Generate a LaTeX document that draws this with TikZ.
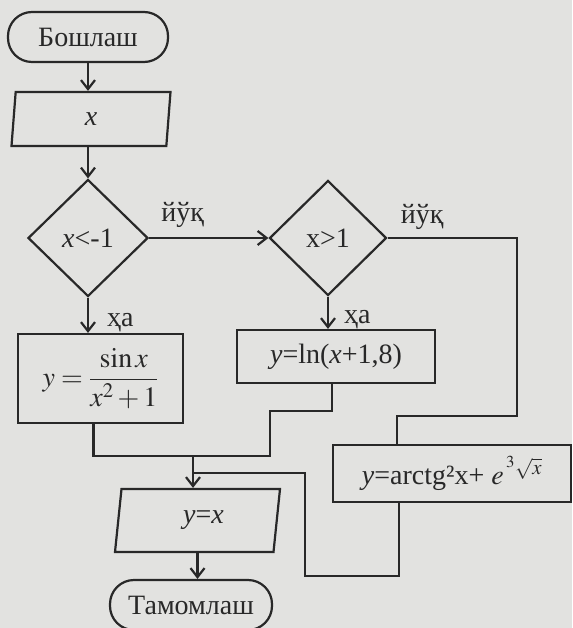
\documentclass[tikz,border=0pt]{standalone}
\usepackage{mathptmx}
\usepackage{fontspec}
\setmainfont{Liberation Serif}
\usetikzlibrary{shapes.geometric,arrows.meta,positioning}

\definecolor{paper}{RGB}{226,226,224}
\definecolor{ink}{RGB}{40,40,40}

\tikzset{
  base/.style={draw=ink, line width=2.2pt, text=ink, font=\fontsize{28}{32}\selectfont, inner sep=0pt},
  term/.style={base, rectangle, rounded corners=24pt, minimum width=160pt, minimum height=50pt},
  io/.style={base, trapezium, trapezium left angle=72, trapezium right angle=108, trapezium stretches body},
  cond/.style={base, diamond, minimum width=120pt, minimum height=117pt},
  proc/.style={base, rectangle},
  lbl/.style={font=\fontsize{28}{32}\selectfont, inner sep=0pt, text=ink},
  line/.style={draw=ink, line width=2.2pt},
  arrow/.style={line, -{Straight Barb[length=9pt,width=14pt]}},
}

\begin{document}
\begin{tikzpicture}[x=1pt, y=-1pt]
    % paper
    \fill[paper] (0,0) rectangle (572,628);
    \useasboundingbox (0,0) rectangle (572,628);

    % blocks
    \node[term] (start) at (88,37) {Бошлаш};
    \node[io, minimum width=159pt, minimum height=54pt] (in) at (91,119) {\textit{x}};
    \node[cond] (d1) at (88,238) {\textit{x}<-1};
    \node[cond, minimum width=117pt, minimum height=115pt] (d2) at (328,238) {x>1};
    \node[proc, minimum width=165pt, minimum height=89pt] (b1) at (100.5,378.5) {$\displaystyle y=\frac{\sin x}{x^{2}+1}$};
    \node[proc, minimum width=198pt, minimum height=53pt] (b2) at (336,356.5) {\textit{y}=ln(\textit{x}+1,8)};
    \node[proc, minimum width=238pt, minimum height=57pt] (b3) at (452,473.5) {\textit{y}=arctg²x+ $e^{\,{}^{3}\sqrt{x}}$};
    \node[io, minimum width=165pt, minimum height=63pt, trapezium left angle=71, trapezium right angle=109] (out) at (197.5,520.5) {\hspace{12pt}\textit{y}=\textit{x}};
    \node[term, minimum width=162pt] (end) at (191,605) {Тамомлаш};

    % branch labels
    \node[lbl, anchor=base west] (no1) at ([xshift=12pt,yshift=16pt]d1.east) {йўқ};
    \node[lbl, anchor=base west] (no2) at ([xshift=13pt,yshift=15pt]d2.east) {йўқ};
    \node[lbl, anchor=base west] (yes1) at ([xshift=19pt,yshift=-29pt]d1.south) {ҳа};
    \node[lbl, anchor=base west] (yes2) at ([xshift=16pt,yshift=-27pt]d2.south) {ҳа};

    % bends
    \coordinate (m1) at (193,456);
    \coordinate (m2) at (193,473);
    \coordinate (j1) at (270,411);
    \coordinate (j2) at (305,576);
    \coordinate (j3) at (517,416);

    % flow
    \draw[arrow] (start) -- (start |- in.north);
    \draw[arrow] (in.south -| d1) -- (d1.north);
    \draw[arrow] (d1.south) -- (d1.south |- b1.north);
    \draw[arrow] (d1.east) -- (d2.west);
    \draw[arrow] (d2.south) -- (d2.south |- b2.north);
    \draw[line] (d2.east) -| (j3) -| ([xshift=-55pt]b3.north);
    \draw[line] ([xshift=-7pt]b1.south) |- (m1);
    \draw[line] ([xshift=-4pt]b2.south) |- (j1) |- (m1);
    \draw[line] ([xshift=-53pt]b3.south) |- (j2) |- (m2);
    \draw[arrow] (m1) -- (m1 |- out.north);
    \draw[arrow] (out.south) -- (out.south |- end.north);
\end{tikzpicture}
\end{document}
